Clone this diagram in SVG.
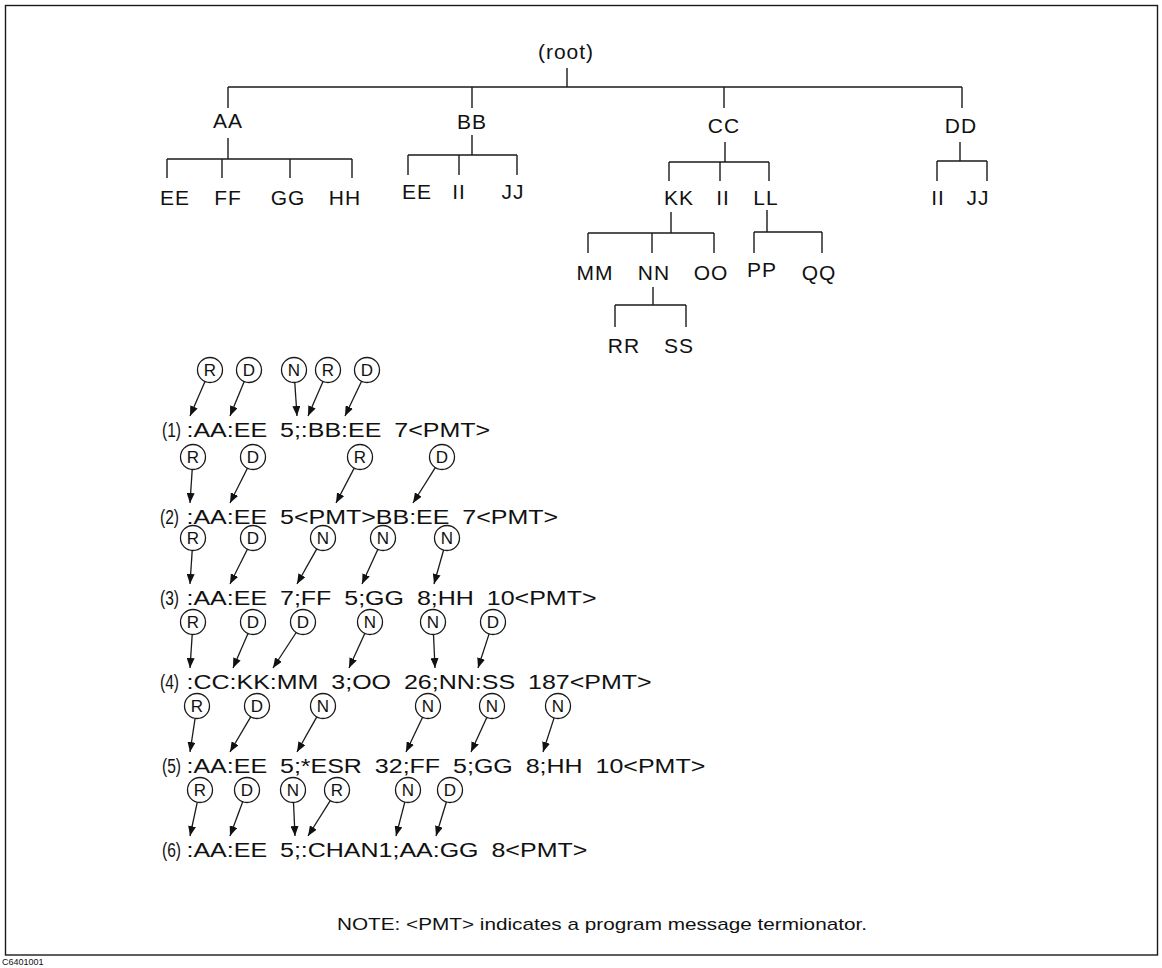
<svg xmlns="http://www.w3.org/2000/svg" width="1162" height="968" viewBox="0 0 1162 968">
<defs>
<marker id="ah" markerUnits="userSpaceOnUse" markerWidth="11" markerHeight="8" refX="10" refY="4" orient="auto"><path d="M0,0 L10,4 L0,8 Z" fill="#111"/></marker>
</defs>
<style>
text{font-family:"Liberation Sans",Arial,Helvetica,sans-serif;fill:#111}
.lbl{font-size:21px;text-anchor:middle;letter-spacing:1px}
.ln{stroke:#1a1a1a;stroke-width:1.4;fill:none}
.msg{font-size:20px;word-spacing:4.8px}
.num{font-size:20px}
.c circle{fill:none;stroke:#1a1a1a;stroke-width:1.3}
.c text{font-size:17px;text-anchor:middle}
.ar{stroke:#1a1a1a;stroke-width:1.3;marker-end:url(#ah)}
</style>
<rect x="0" y="0" width="1162" height="968" fill="#fff"/>
<rect class="ln" x="5.5" y="5.5" width="1152" height="949.5"/>

<g id="tree-connectors">
<path class="ln" d="M567,68 V87 M228,87 H962 M228,87 V108 M472,87 V108 M724,87 V108 M962,87 V108
M228,138 V159 M167,159 H352 M167,159 V178 M222,159 V178 M290,159 V178 M352,159 V178
M472,135 V155 M408,155 H517 M408,155 V175 M459,155 V175 M517,155 V175
M725,142 V162 M669,162 H769 M669,162 V181 M720,162 V181 M769,162 V181
M960,142 V161 M937,161 H987 M937,161 V181 M987,161 V181
M671,212 V233 M588,233 H714 M588,233 V253 M652,233 V253 M714,233 V253
M767,210 V232 M754,232 H822 M754,232 V253 M822,232 V253
M653,287 V305 M615,305 H686 M615,305 V327 M686,305 V327"/>
</g>

<g id="node-root"><text class="lbl" x="566" y="59" letter-spacing="0">(root)</text></g>
<g id="node-aa"><text class="lbl" x="228" y="128">AA</text></g>
<g id="node-bb"><text class="lbl" x="472" y="129">BB</text></g>
<g id="node-cc"><text class="lbl" x="724" y="133">CC</text></g>
<g id="node-dd"><text class="lbl" x="961" y="133">DD</text></g>
<g id="node-aa-ee"><text class="lbl" x="175" y="205">EE</text></g>
<g id="node-aa-ff"><text class="lbl" x="228" y="205">FF</text></g>
<g id="node-aa-gg"><text class="lbl" x="288" y="205">GG</text></g>
<g id="node-aa-hh"><text class="lbl" x="345" y="205">HH</text></g>
<g id="node-bb-ee"><text class="lbl" x="417" y="199">EE</text></g>
<g id="node-bb-ii"><text class="lbl" x="459" y="199">II</text></g>
<g id="node-bb-jj"><text class="lbl" x="513" y="199">JJ</text></g>
<g id="node-cc-kk"><text class="lbl" x="679" y="205">KK</text></g>
<g id="node-cc-ii"><text class="lbl" x="723" y="205">II</text></g>
<g id="node-cc-ll"><text class="lbl" x="766" y="205">LL</text></g>
<g id="node-dd-ii"><text class="lbl" x="938" y="205">II</text></g>
<g id="node-dd-jj"><text class="lbl" x="978" y="205">JJ</text></g>
<g id="node-kk-mm"><text class="lbl" x="595" y="280">MM</text></g>
<g id="node-kk-nn"><text class="lbl" x="654" y="280">NN</text></g>
<g id="node-kk-oo"><text class="lbl" x="711" y="280">OO</text></g>
<g id="node-ll-pp"><text class="lbl" x="762" y="277">PP</text></g>
<g id="node-ll-qq"><text class="lbl" x="819" y="280">QQ</text></g>
<g id="node-nn-rr"><text class="lbl" x="624" y="353">RR</text></g>
<g id="node-nn-ss"><text class="lbl" x="679" y="353">SS</text></g>

<!-- example messages -->
<g id="msg1">
<text class="num" x="162" y="437" textLength="19" lengthAdjust="spacingAndGlyphs">(1)</text>
<text class="msg" transform="translate(186.5 437) scale(1.25 1)">:AA:EE 5;:BB:EE 7&lt;PMT&gt;</text>
</g>
<g id="msg2">
<text class="num" x="160" y="524" textLength="19" lengthAdjust="spacingAndGlyphs">(2)</text>
<text class="msg" transform="translate(186.5 524) scale(1.25 1)">:AA:EE 5&lt;PMT&gt;BB:EE 7&lt;PMT&gt;</text>
</g>
<g id="msg3">
<text class="num" x="160" y="605" textLength="19" lengthAdjust="spacingAndGlyphs">(3)</text>
<text class="msg" transform="translate(186.5 605) scale(1.25 1)">:AA:EE 7;FF 5;GG 8;HH 10&lt;PMT&gt;</text>
</g>
<g id="msg4">
<text class="num" x="160" y="689" textLength="19" lengthAdjust="spacingAndGlyphs">(4)</text>
<text class="msg" transform="translate(186.5 689) scale(1.25 1)">:CC:KK:MM 3;OO 26;NN:SS 187&lt;PMT&gt;</text>
</g>
<g id="msg5">
<text class="num" x="162" y="773" textLength="19" lengthAdjust="spacingAndGlyphs">(5)</text>
<text class="msg" transform="translate(186.5 773) scale(1.25 1)">:AA:EE 5;*ESR 32;FF 5;GG 8;HH 10&lt;PMT&gt;</text>
</g>
<g id="msg6">
<text class="num" x="162" y="857" textLength="19" lengthAdjust="spacingAndGlyphs">(6)</text>
<text class="msg" transform="translate(186.5 857) scale(1.25 1)">:AA:EE 5;:CHAN1;AA:GG 8&lt;PMT&gt;</text>
</g>

<!-- circled markers -->
<g class="c" id="m1-1"><circle cx="210" cy="370" r="12.5"/><text x="210" y="376">R</text></g>
<g class="c" id="m1-2"><circle cx="249" cy="370" r="12.5"/><text x="249" y="376">D</text></g>
<g class="c" id="m1-3"><circle cx="294" cy="370" r="12.5"/><text x="294" y="376">N</text></g>
<g class="c" id="m1-4"><circle cx="328" cy="370" r="12.5"/><text x="328" y="376">R</text></g>
<g class="c" id="m1-5"><circle cx="367" cy="370" r="12.5"/><text x="367" y="376">D</text></g>

<g class="c" id="m2-1"><circle cx="193" cy="457" r="12.5"/><text x="193" y="463">R</text></g>
<g class="c" id="m2-2"><circle cx="253" cy="457" r="12.5"/><text x="253" y="463">D</text></g>
<g class="c" id="m2-3"><circle cx="360" cy="457" r="12.5"/><text x="360" y="463">R</text></g>
<g class="c" id="m2-4"><circle cx="442" cy="457" r="12.5"/><text x="442" y="463">D</text></g>

<g class="c" id="m3-1"><circle cx="193" cy="538" r="12.5"/><text x="193" y="544">R</text></g>
<g class="c" id="m3-2"><circle cx="253" cy="538" r="12.5"/><text x="253" y="544">D</text></g>
<g class="c" id="m3-3"><circle cx="323" cy="538" r="12.5"/><text x="323" y="544">N</text></g>
<g class="c" id="m3-4"><circle cx="383" cy="538" r="12.5"/><text x="383" y="544">N</text></g>
<g class="c" id="m3-5"><circle cx="447" cy="538" r="12.5"/><text x="447" y="544">N</text></g>

<g class="c" id="m4-1"><circle cx="193" cy="622" r="12.5"/><text x="193" y="628">R</text></g>
<g class="c" id="m4-2"><circle cx="253" cy="622" r="12.5"/><text x="253" y="628">D</text></g>
<g class="c" id="m4-3"><circle cx="303" cy="622" r="12.5"/><text x="303" y="628">D</text></g>
<g class="c" id="m4-4"><circle cx="370" cy="622" r="12.5"/><text x="370" y="628">N</text></g>
<g class="c" id="m4-5"><circle cx="433" cy="622" r="12.5"/><text x="433" y="628">N</text></g>
<g class="c" id="m4-6"><circle cx="493" cy="622" r="12.5"/><text x="493" y="628">D</text></g>

<g class="c" id="m5-1"><circle cx="197" cy="706" r="12.5"/><text x="197" y="712">R</text></g>
<g class="c" id="m5-2"><circle cx="257" cy="706" r="12.5"/><text x="257" y="712">D</text></g>
<g class="c" id="m5-3"><circle cx="323" cy="706" r="12.5"/><text x="323" y="712">N</text></g>
<g class="c" id="m5-4"><circle cx="428" cy="706" r="12.5"/><text x="428" y="712">N</text></g>
<g class="c" id="m5-5"><circle cx="492" cy="706" r="12.5"/><text x="492" y="712">N</text></g>
<g class="c" id="m5-6"><circle cx="558" cy="706" r="12.5"/><text x="558" y="712">N</text></g>

<g class="c" id="m6-1"><circle cx="200" cy="790" r="12.5"/><text x="200" y="796">R</text></g>
<g class="c" id="m6-2"><circle cx="247" cy="790" r="12.5"/><text x="247" y="796">D</text></g>
<g class="c" id="m6-3"><circle cx="293" cy="790" r="12.5"/><text x="293" y="796">N</text></g>
<g class="c" id="m6-4"><circle cx="337" cy="790" r="12.5"/><text x="337" y="796">R</text></g>
<g class="c" id="m6-5"><circle cx="408" cy="790" r="12.5"/><text x="408" y="796">N</text></g>
<g class="c" id="m6-6"><circle cx="450" cy="790" r="12.5"/><text x="450" y="796">D</text></g>

<g id="arrows">
<line class="ar" x1="205" y1="381.5" x2="190" y2="416"/>
<line class="ar" x1="244.2" y1="381.6" x2="230" y2="416"/>
<line class="ar" x1="294.8" y1="382.5" x2="297" y2="416"/>
<line class="ar" x1="323" y1="381.5" x2="308" y2="416"/>
<line class="ar" x1="361.6" y1="381.3" x2="345" y2="416"/>

<line class="ar" x1="192.2" y1="469.5" x2="190" y2="503"/>
<line class="ar" x1="247.4" y1="468.2" x2="230" y2="503"/>
<line class="ar" x1="354.2" y1="468.1" x2="336" y2="503"/>
<line class="ar" x1="435.3" y1="467.6" x2="413" y2="503"/>

<line class="ar" x1="192.2" y1="550.5" x2="190" y2="584"/>
<line class="ar" x1="247.4" y1="549.2" x2="230" y2="584"/>
<line class="ar" x1="316.8" y1="548.9" x2="297" y2="584"/>
<line class="ar" x1="377.8" y1="549.4" x2="362" y2="584"/>
<line class="ar" x1="443.6" y1="550" x2="434" y2="584"/>

<line class="ar" x1="192.2" y1="634.5" x2="190" y2="668"/>
<line class="ar" x1="248" y1="633.5" x2="233" y2="668"/>
<line class="ar" x1="296.2" y1="632.5" x2="273" y2="668"/>
<line class="ar" x1="364.8" y1="633.4" x2="349" y2="668"/>
<line class="ar" x1="433.5" y1="634.5" x2="435" y2="668"/>
<line class="ar" x1="489.1" y1="633.9" x2="478" y2="668"/>

<line class="ar" x1="195.1" y1="718.4" x2="190" y2="752"/>
<line class="ar" x1="250.7" y1="716.8" x2="230" y2="752"/>
<line class="ar" x1="316.8" y1="716.9" x2="297" y2="752"/>
<line class="ar" x1="422.6" y1="717.3" x2="406" y2="752"/>
<line class="ar" x1="486.8" y1="717.4" x2="471" y2="752"/>
<line class="ar" x1="554.1" y1="717.9" x2="543" y2="752"/>

<line class="ar" x1="197.3" y1="802.2" x2="190" y2="836"/>
<line class="ar" x1="242.7" y1="801.7" x2="230" y2="836"/>
<line class="ar" x1="293.5" y1="802.5" x2="295" y2="836"/>
<line class="ar" x1="330.3" y1="800.6" x2="308" y2="836"/>
<line class="ar" x1="404.8" y1="802.1" x2="396" y2="836"/>
<line class="ar" x1="446.4" y1="802" x2="436" y2="836"/>
</g>

<g id="note">
<text x="337" y="930" font-size="17" textLength="530" lengthAdjust="spacingAndGlyphs">NOTE: &lt;PMT&gt; indicates a program message termionator.</text>
</g>
<text x="2" y="965" font-size="9">C6401001</text>
</svg>
